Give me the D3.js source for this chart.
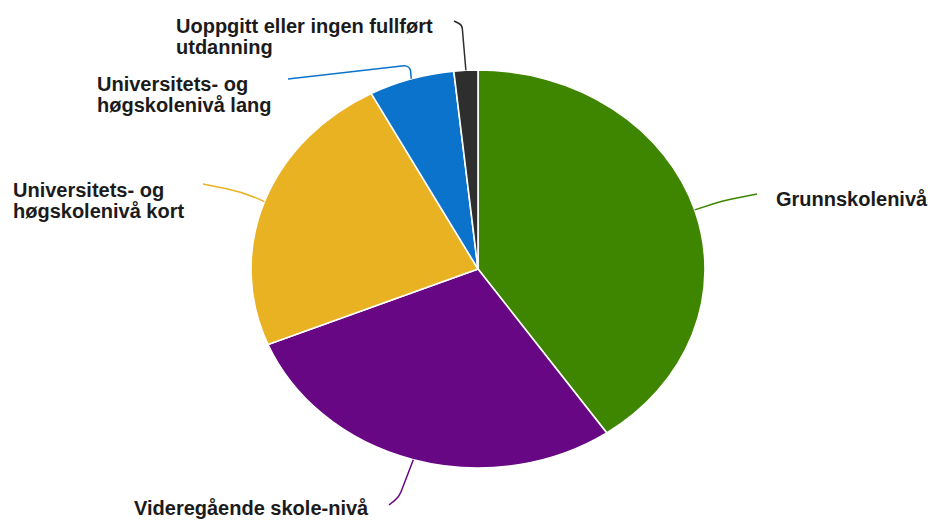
<head>
  <script src="https://d3js.org/d3.v7.min.js"></script>
  <style>
    body { margin: 0; background: #fff; }
    .label { font-family: "Liberation Sans", Arial, sans-serif; font-weight: bold; font-size: 20px; fill: #1b1b1b; }
  </style>
</head>
<body>
  <svg id="chart"></svg>
  <script>
    // data
    var categories = ["Grunnskolenivå", "Videregående skole-nivå", "Universitets- og høgskolenivå kort",
                      "Universitets- og høgskolenivå lang", "Uoppgitt eller ingen fullført utdanning"];
    var values = [40.4, 28.4, 23.4, 6.1, 1.7];
    var colors = ["#3f8600", "#680784", "#e9b222", "#0b73cc", "#2e2e2e"];

    // label layout: text lines, text position, leader start and elbow
    var labelLines = [["Grunnskolenivå"], ["Videregående skole-nivå"], ["Universitets- og", "høgskolenivå kort"],
                      ["Universitets- og", "høgskolenivå lang"], ["Uoppgitt eller ingen fullført", "utdanning"]];
    var labelPos = [[776, 206], [134, 515], [13, 197], [97, 91], [176, 33]];
    var leaderStart = [[757, 194], [389, 505], [203, 184], [288, 79], [454, 21]];
    var leaderElbow = [[722, 201], [399, 497], [243, 192], [410, 65], [462, 25]];
    var elbowRadius = [150, 20, 150, 6, 6];

    var width = 930, height = 520;
    var cx = 478, cy = 269, rx = 227, ry = 199;

    var svg = d3.select("#chart")
      .attr("width", width)
      .attr("height", height);

    var data = categories.map(function(c, i) { return { name: c, value: values[i], color: colors[i], i: i }; });

    var pie = d3.pie().sort(null).value(function(d) { return d.value; });
    var arcs = pie(data);
    var arc = d3.arc().innerRadius(0).outerRadius(ry);

    // pie is drawn slightly wider than tall, like the reference
    var g = svg.append("g")
      .attr("transform", "translate(" + cx + "," + cy + ") scale(" + (rx / ry) + ",1)");

    g.selectAll("path")
      .data(arcs)
      .enter()
      .append("path")
      .attr("d", arc)
      .style("fill", function(d) { return d.data.color; })
      .style("stroke", "#fff")
      .style("stroke-width", 1.6)
      .attr("vector-effect", "non-scaling-stroke");

    // leader lines
    arcs.forEach(function(a) {
      var i = a.data.i;
      var mid = (a.startAngle + a.endAngle) / 2;
      var ax = cx + rx * Math.sin(mid), ay = cy - ry * Math.cos(mid);
      var p = d3.path();
      p.moveTo(leaderStart[i][0], leaderStart[i][1]);
      p.arcTo(leaderElbow[i][0], leaderElbow[i][1], ax, ay, elbowRadius[i]);
      p.lineTo(ax, ay);
      svg.append("path")
        .attr("d", p.toString())
        .style("fill", "none")
        .style("stroke", a.data.color)
        .style("stroke-width", 1.5);
    });

    // labels
    data.forEach(function(d, i) {
      var t = svg.append("text")
        .attr("class", "label")
        .attr("x", labelPos[i][0])
        .attr("y", labelPos[i][1]);
      labelLines[i].forEach(function(line, k) {
        t.append("tspan")
          .attr("x", labelPos[i][0])
          .attr("dy", k === 0 ? 0 : 20.5)
          .text(line);
      });
    });
  </script>
</body>
